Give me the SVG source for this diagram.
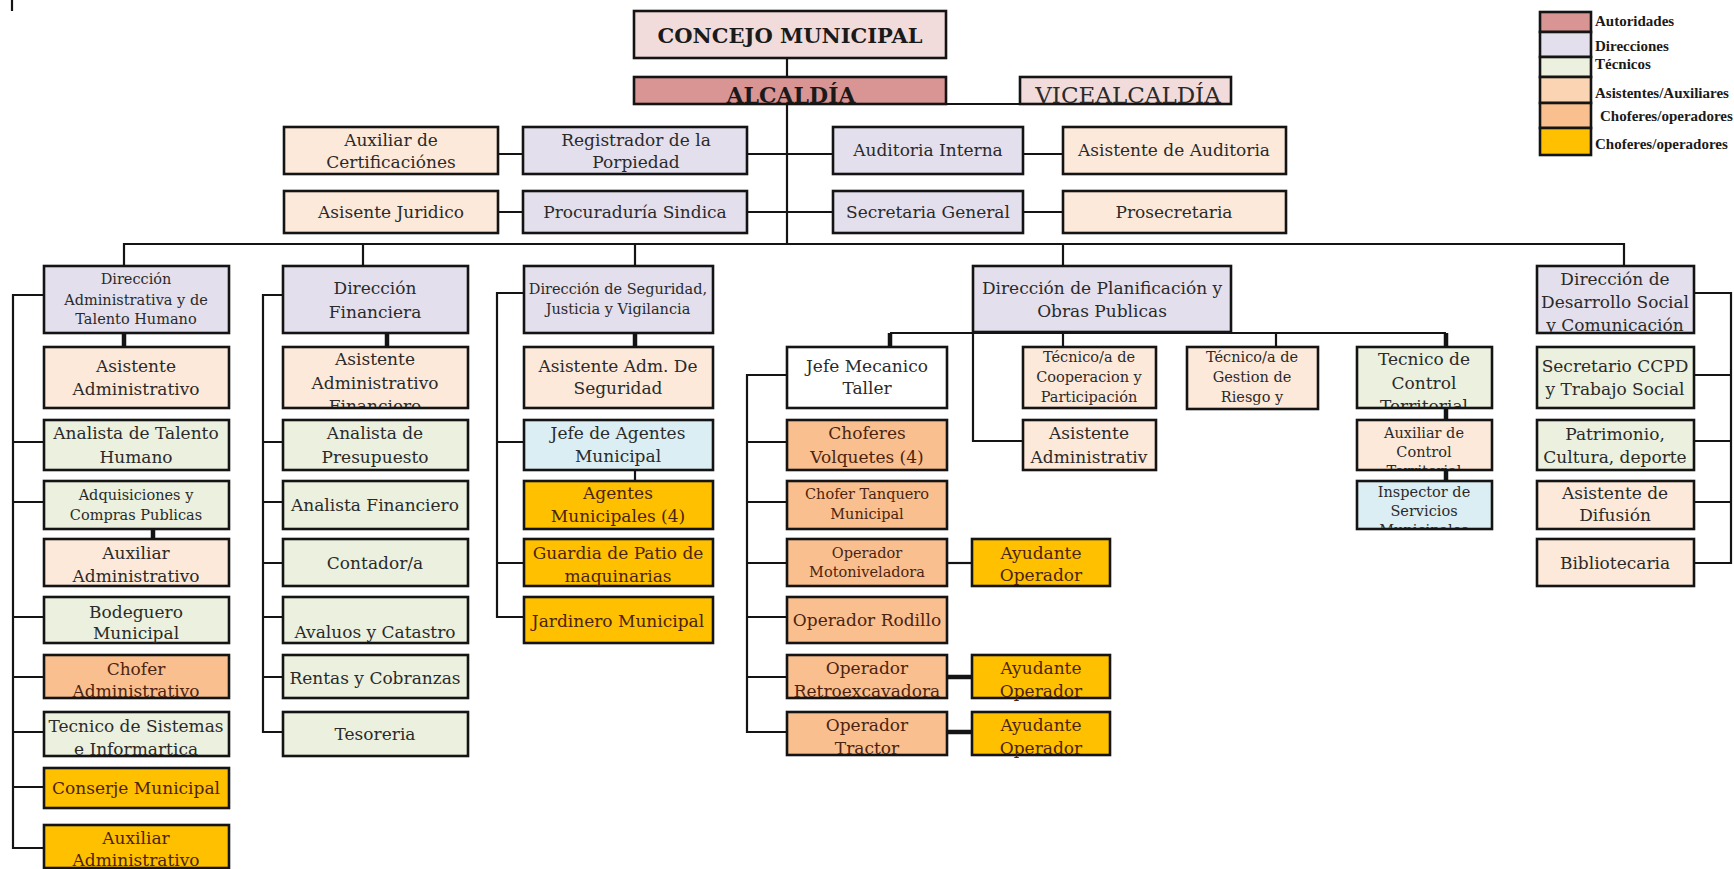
<svg xmlns="http://www.w3.org/2000/svg" width="1734" height="869" viewBox="0 0 1734 869">
<style>
.nodes rect{stroke:#141414;stroke-width:2.6}
.cm{fill:#F2DCDB}.au{fill:#D99594}.di{fill:#E4DFEC}.pe{fill:#FDE9D9}.te{fill:#EBF1DE}.or{fill:#FABF8F}.go{fill:#FFC000}.bl{fill:#DBEEF4}.wh{fill:#FFFFFF}.lp{fill:#FBD4B4}
text{font-family:"DejaVu Serif","Liberation Serif",serif;font-size:17px;fill:#2a2a2a;text-anchor:middle}
text.s{font-size:14.5px}
text.w{fill:#4b2410}
text.hb{font-weight:bold;font-size:21px;fill:#1a1a1a}
text.lg{font-family:"Liberation Serif",serif;font-weight:bold;font-size:15px;text-anchor:start;fill:#1a1a1a}
.ln{stroke:#141414;stroke-width:2.2;fill:none}
.tk{stroke:#141414;stroke-width:4.5;fill:none}
</style>
<defs>
<clipPath id="c-asfin"><rect x="284" y="348" width="183" height="59"/></clipPath>
<clipPath id="c-ctrl"><rect x="1358" y="348" width="133" height="59"/></clipPath>
<clipPath id="c-auxc"><rect x="1358" y="421" width="133" height="48"/></clipPath>
<clipPath id="c-insp"><rect x="1358" y="482" width="133" height="46"/></clipPath>
<clipPath id="c-des"><rect x="1538" y="267" width="155" height="65"/></clipPath>
</defs>
<rect x="0" y="0" width="1734" height="869" fill="#FFFFFF"/>

<g id="connectors">
<path class="ln" d="M12 0V11"/>
<path class="ln" d="M787 58V244"/>
<path class="ln" d="M946 104H1020"/>
<path class="ln" d="M498 154H523M747 154H833M1023 154H1063"/>
<path class="ln" d="M498 212H523M747 212H833M1023 212H1063"/>
<path class="ln" d="M124 266V244H1624V266M363 244V266M635 244V266M1063 244V266"/>
<path class="ln" d="M44 295H13V848H44M13 442H44M13 502H44M13 617H44M13 677H44M13 732H44M13 787H44"/>
<path class="tk" d="M124 333V347M153 529V539"/>
<path class="ln" d="M283 295H263V732H283M263 442H283M263 502H283M263 563H283M263 617H283M263 677H283"/>
<path class="tk" d="M387 333V347"/>
<path class="ln" d="M524 293H497V617H524M497 442H524M497 563H524"/>
<path class="tk" d="M635 333V347"/>
<path class="ln" d="M635 470V481"/>
<path class="ln" d="M890 333H1446M973 333V441H1023M1063 333V347M1276 333V347"/>
<path class="tk" d="M890 333V347M1446 333V347M1446 408V420M1446 470V481"/>
<path class="ln" d="M787 375H747V732H787M747 442H787M747 502H787M747 563H787M747 617H787M747 677H787"/>
<path class="ln" d="M947 563H972"/>
<path class="tk" d="M947 677H972M947 732H972"/>
<path class="ln" d="M1694 293H1731V563H1694M1694 375H1731M1694 441H1731M1694 502H1731"/>
</g>

<g class="nodes">
<g id="concejo"><rect class="cm" x="634" y="11" width="312" height="47"/><text class="hb" x="790" y="43">CONCEJO MUNICIPAL</text></g>
<g id="alcaldia"><rect class="au" x="634" y="77" width="312" height="27"/><text class="hb" x="791" y="103" style="font-size:22px">ALCALDÍA</text></g>
<g id="vicealcaldia"><rect class="cm" x="1020" y="77" width="211" height="27"/><text x="1128" y="103" style="font-size:23px">VICEALCALDÍA</text></g>

<g id="aux-cert"><rect class="pe" x="284" y="127" width="214" height="47"/><text x="391" y="146">Auxiliar de</text><text x="391" y="168">Certificaciónes</text></g>
<g id="registrador"><rect class="di" x="523" y="127" width="224" height="47"/><text x="636" y="146">Registrador de la</text><text x="636" y="168">Porpiedad</text></g>
<g id="auditoria"><rect class="di" x="833" y="127" width="190" height="47"/><text x="928" y="156">Auditoria Interna</text></g>
<g id="asist-auditoria"><rect class="pe" x="1063" y="127" width="223" height="47"/><text x="1174" y="156">Asistente de Auditoria</text></g>
<g id="juridico"><rect class="pe" x="284" y="191" width="214" height="42"/><text x="391" y="218">Asisente Juridico</text></g>
<g id="procuraduria"><rect class="di" x="523" y="191" width="224" height="42"/><text x="635" y="218">Procuraduría Sindica</text></g>
<g id="secretaria"><rect class="di" x="833" y="191" width="190" height="42"/><text x="928" y="218">Secretaria General</text></g>
<g id="prosecretaria"><rect class="pe" x="1063" y="191" width="223" height="42"/><text x="1174" y="218">Prosecretaria</text></g>

<g id="dir-admin"><rect class="di" x="44" y="266" width="185" height="67"/><text class="s" x="136" y="284">Dirección</text><text class="s" x="136" y="305">Administrativa y de</text><text class="s" x="136" y="324">Talento Humano</text></g>
<g id="asist-admin"><rect class="pe" x="44" y="347" width="185" height="61"/><text x="136" y="372">Asistente</text><text x="136" y="395">Administrativo</text></g>
<g id="analista-th"><rect class="te" x="44" y="420" width="185" height="50"/><text x="136" y="439">Analista de Talento</text><text x="136" y="463">Humano</text></g>
<g id="adquisiciones"><rect class="te" x="44" y="481" width="185" height="48"/><text class="s" x="136" y="500">Adquisiciones y</text><text class="s" x="136" y="520">Compras Publicas</text></g>
<g id="aux-admin"><rect class="pe" x="44" y="539" width="185" height="47"/><text x="136" y="559">Auxiliar</text><text x="136" y="582">Administrativo</text></g>
<g id="bodeguero"><rect class="te" x="44" y="597" width="185" height="46"/><text x="136" y="618">Bodeguero</text><text x="136" y="639">Municipal</text></g>
<g id="chofer-admin"><rect class="or" x="44" y="655" width="185" height="43"/><text class="w" x="136" y="675">Chofer</text><text class="w" x="136" y="697">Administrativo</text></g>
<g id="tecnico-sistemas"><rect class="te" x="44" y="712" width="185" height="44"/><text x="136" y="732">Tecnico de Sistemas</text><text x="136" y="755">e Informartica</text></g>
<g id="conserje"><rect class="go" x="44" y="768" width="185" height="40"/><text class="w" x="136" y="794">Conserje Municipal</text></g>
<g id="aux-admin-2"><rect class="go" x="44" y="825" width="185" height="43"/><text class="w" x="136" y="844">Auxiliar</text><text class="w" x="136" y="866">Administrativo</text></g>

<g id="dir-fin"><rect class="di" x="283" y="266" width="185" height="67"/><text x="375" y="294">Dirección</text><text x="375" y="318">Financiera</text></g>
<g id="asist-fin"><rect class="pe" x="283" y="347" width="185" height="61"/><g clip-path="url(#c-asfin)"><text x="375" y="365">Asistente</text><text x="375" y="389">Administrativo</text><text x="375" y="412">Financiero</text></g></g>
<g id="analista-pres"><rect class="te" x="283" y="420" width="185" height="50"/><text x="375" y="439">Analista de</text><text x="375" y="463">Presupuesto</text></g>
<g id="analista-fin"><rect class="te" x="283" y="481" width="185" height="48"/><text x="375" y="511">Analista Financiero</text></g>
<g id="contador"><rect class="te" x="283" y="539" width="185" height="47"/><text x="375" y="569">Contador/a</text></g>
<g id="avaluos"><rect class="te" x="283" y="597" width="185" height="46"/><text x="375" y="638">Avaluos y Catastro</text></g>
<g id="rentas"><rect class="te" x="283" y="655" width="185" height="43"/><text x="375" y="684">Rentas y Cobranzas</text></g>
<g id="tesoreria"><rect class="te" x="283" y="712" width="185" height="44"/><text x="375" y="740">Tesoreria</text></g>

<g id="dir-seg"><rect class="di" x="524" y="266" width="189" height="67"/><text class="s" x="618" y="294">Dirección de Seguridad,</text><text class="s" x="618" y="314">Justicia y Vigilancia</text></g>
<g id="asist-seg"><rect class="pe" x="524" y="347" width="189" height="61"/><text x="618" y="372">Asistente Adm. De</text><text x="618" y="394">Seguridad</text></g>
<g id="jefe-agentes"><rect class="bl" x="524" y="420" width="189" height="50"/><text x="618" y="439">Jefe de Agentes</text><text x="618" y="462">Municipal</text></g>
<g id="agentes"><rect class="go" x="524" y="481" width="189" height="48"/><text class="w" x="618" y="499">Agentes</text><text class="w" x="618" y="522">Municipales (4)</text></g>
<g id="guardia"><rect class="go" x="524" y="539" width="189" height="47"/><text class="w" x="618" y="559">Guardia de Patio de</text><text class="w" x="618" y="582">maquinarias</text></g>
<g id="jardinero"><rect class="go" x="524" y="597" width="189" height="46"/><text class="w" x="618" y="627">Jardinero Municipal</text></g>

<g id="dir-planif"><rect class="di" x="973" y="266" width="258" height="66"/><text x="1102" y="294">Dirección de Planificación y</text><text x="1102" y="317">Obras Publicas</text></g>
<g id="jefe-mecanico"><rect class="wh" x="787" y="347" width="160" height="61"/><text x="867" y="372">Jefe Mecanico</text><text x="867" y="394">Taller</text></g>
<g id="choferes-volquetes"><rect class="or" x="787" y="420" width="160" height="50"/><text class="w" x="867" y="439">Choferes</text><text class="w" x="867" y="463">Volquetes (4)</text></g>
<g id="chofer-tanquero"><rect class="or" x="787" y="481" width="160" height="48"/><text class="s w" x="867" y="499">Chofer Tanquero</text><text class="s w" x="867" y="519">Municipal</text></g>
<g id="op-moto"><rect class="or" x="787" y="539" width="160" height="47"/><text class="s w" x="867" y="558">Operador</text><text class="s w" x="867" y="577">Motoniveladora</text></g>
<g id="op-rodillo"><rect class="or" x="787" y="597" width="160" height="46"/><text class="w" x="867" y="626">Operador Rodillo</text></g>
<g id="op-retro"><rect class="or" x="787" y="655" width="160" height="43"/><text class="w" x="867" y="674">Operador</text><text class="w" x="867" y="697">Retroexcavadora</text></g>
<g id="op-tractor"><rect class="or" x="787" y="712" width="160" height="43"/><text class="w" x="867" y="731">Operador</text><text class="w" x="867" y="754">Tractor</text></g>
<g id="ayudante-1"><rect class="go" x="972" y="539" width="138" height="47"/><text class="w" x="1041" y="559">Ayudante</text><text class="w" x="1041" y="581">Operador</text></g>
<g id="ayudante-2"><rect class="go" x="972" y="655" width="138" height="43"/><text class="w" x="1041" y="674">Ayudante</text><text class="w" x="1041" y="697">Operador</text></g>
<g id="ayudante-3"><rect class="go" x="972" y="712" width="138" height="43"/><text class="w" x="1041" y="731">Ayudante</text><text class="w" x="1041" y="754">Operador</text></g>
<g id="tec-cooperacion"><rect class="pe" x="1023" y="347" width="133" height="61"/><text class="s" x="1089" y="362">Técnico/a de</text><text class="s" x="1089" y="382">Cooperacion y</text><text class="s" x="1089" y="402">Participación</text></g>
<g id="asist-planif"><rect class="pe" x="1023" y="420" width="133" height="50"/><text x="1089" y="439">Asistente</text><text x="1089" y="463">Administrativ</text></g>
<g id="tec-riesgo"><rect class="pe" x="1187" y="347" width="131" height="62"/><text class="s" x="1252" y="362">Técnico/a de</text><text class="s" x="1252" y="382">Gestion de</text><text class="s" x="1252" y="402">Riesgo y</text></g>
<g id="tec-control"><rect class="te" x="1357" y="347" width="135" height="61"/><g clip-path="url(#c-ctrl)"><text x="1424" y="365">Tecnico de</text><text x="1424" y="389">Control</text><text x="1424" y="412">Territorial</text></g></g>
<g id="aux-control"><rect class="pe" x="1357" y="420" width="135" height="50"/><g clip-path="url(#c-auxc)"><text class="s" x="1424" y="438">Auxiliar de</text><text class="s" x="1424" y="457">Control</text><text class="s" x="1424" y="476">Territorial</text></g></g>
<g id="inspector"><rect class="bl" x="1357" y="481" width="135" height="48"/><g clip-path="url(#c-insp)"><text class="s" x="1424" y="497">Inspector de</text><text class="s" x="1424" y="516">Servicios</text><text class="s" x="1424" y="535">Municipales</text></g></g>

<g id="dir-desarrollo"><rect class="di" x="1537" y="266" width="157" height="67"/><g clip-path="url(#c-des)"><text x="1615" y="285">Dirección de</text><text x="1615" y="308">Desarrollo Social</text><text x="1615" y="331">y Comunicación</text></g></g>
<g id="secretario-ccpd"><rect class="te" x="1537" y="347" width="157" height="61"/><text x="1615" y="372">Secretario CCPD</text><text x="1615" y="395">y Trabajo Social</text></g>
<g id="patrimonio"><rect class="te" x="1537" y="420" width="157" height="50"/><text x="1615" y="440">Patrimonio,</text><text x="1615" y="463">Cultura, deporte</text></g>
<g id="asist-difusion"><rect class="pe" x="1537" y="481" width="157" height="48"/><text x="1615" y="499">Asistente de</text><text x="1615" y="521">Difusión</text></g>
<g id="bibliotecaria"><rect class="pe" x="1537" y="539" width="157" height="47"/><text x="1615" y="569">Bibliotecaria</text></g>
</g>

<g id="legend">
<g class="nodes">
<rect class="au" x="1540" y="12" width="51" height="20"/>
<rect class="di" x="1540" y="32" width="51" height="25"/>
<rect class="te" x="1540" y="57" width="51" height="20"/>
<rect class="lp" x="1540" y="77" width="51" height="26"/>
<rect class="or" x="1540" y="103" width="51" height="25"/>
<rect class="go" x="1540" y="128" width="51" height="27"/>
</g>
<text class="lg" x="1595" y="26">Autoridades</text>
<text class="lg" x="1595" y="51">Direcciones</text>
<text class="lg" x="1595" y="69">Técnicos</text>
<text class="lg" x="1595" y="98">Asistentes/Auxiliares</text>
<text class="lg" x="1600" y="121">Choferes/operadores</text>
<text class="lg" x="1595" y="149">Choferes/operadores</text>
</g>
</svg>
